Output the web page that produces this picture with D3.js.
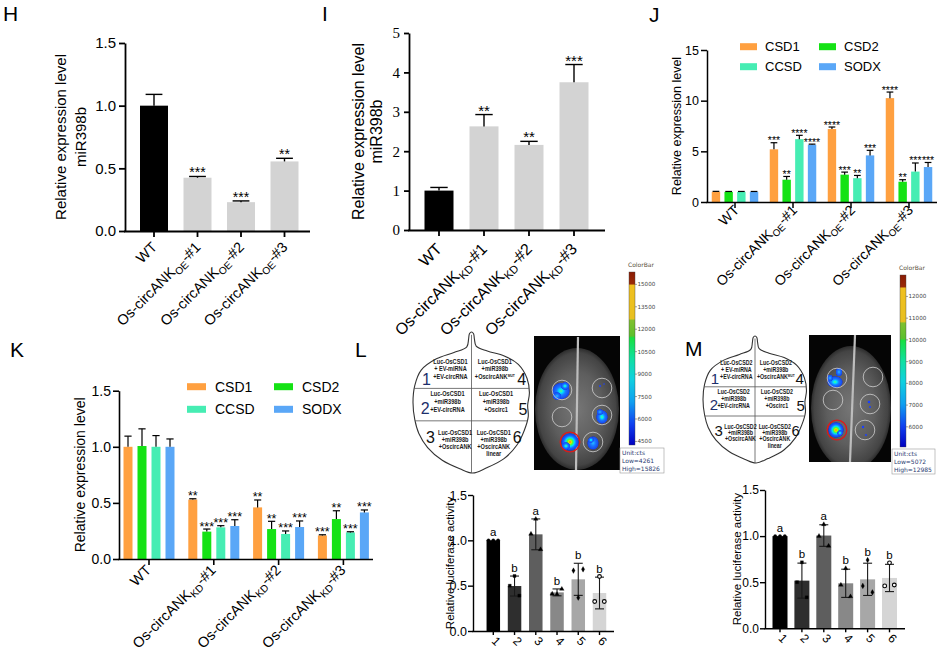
<!DOCTYPE html>
<html>
<head>
<meta charset="utf-8">
<script src="https://cdn.jsdelivr.net/npm/d3@7"></script>
<style>
  body { margin: 0; background: #fff; }
  svg { display: block; }
</style>
</head>
<body>
<svg id="fig" width="937" height="651"></svg>
<script>
// ---------------- data ----------------
// H: miR398b in overexpression lines
const hCats = ['WT', 'OE1', 'OE2', 'OE3'];
const hTickLabels = [['WT'], ['Os-circANK', 'OE', '-#1'], ['Os-circANK', 'OE', '-#2'], ['Os-circANK', 'OE', '-#3']];
const hValues = [1.0, 0.425, 0.23, 0.555];
const hErrors = [0.09, 0.01, 0.01, 0.025];
const hStars = ['', '***', '***', '**'];
const hYTicks = [0, 0.5, 1.0, 1.5];

// I: miR398b in knock-down lines
const iCats = ['WT', 'KD1', 'KD2', 'KD3'];
const iTickLabels = [['WT'], ['Os-circANK', 'KD', '-#1'], ['Os-circANK', 'KD', '-#2'], ['Os-circANK', 'KD', '-#3']];
const iValues = [1.0, 2.63, 2.16, 3.75];
const iErrors = [0.08, 0.30, 0.09, 0.45];
const iStars = ['', '**', '**', '***'];
const iYTicks = [0, 1, 2, 3, 4, 5];

// J / K: target genes
const geneSeries = ['CSD1', 'CSD2', 'CCSD', 'SODX'];

const jGroups = ['WT', 'OE1', 'OE2', 'OE3'];
const jTickLabels = hTickLabels;
const jCSD1 = [1.0, 5.2, 7.2, 10.25];
const jCSD1Err = [0.05, 0.65, 0.2, 0.6];
const jCSD1Stars = ['', '***', '****', '****'];
const jCSD2 = [1.0, 2.2, 2.7, 2.0];
const jCSD2Err = [0.04, 0.32, 0.25, 0.2];
const jCSD2Stars = ['', '**', '***', '**'];
const jCCSD = [1.0, 6.2, 2.35, 3.0];
const jCCSDErr = [0.04, 0.38, 0.27, 0.85];
const jCCSDStars = ['', '****', '**', '***'];
const jSODX = [1.0, 5.65, 4.6, 3.45];
const jSODXErr = [0.04, 0.06, 0.5, 0.45];
const jSODXStars = ['', '****', '***', '***'];
const jYTicks = [0, 5, 10, 15];

const kGroups = ['WT', 'KD1', 'KD2', 'KD3'];
const kTickLabels = iTickLabels;
const kCSD1 = [1.0, 0.53, 0.46, 0.21];
const kCSD1Err = [0.095, 0.007, 0.066, 0.006];
const kCSD1Stars = ['', '**', '**', '***'];
const kCSD2 = [1.007, 0.244, 0.267, 0.356];
const kCSD2Err = [0.153, 0.023, 0.069, 0.074];
const kCSD2Stars = ['', '***', '**', '**'];
const kCCSD = [1.0, 0.282, 0.223, 0.237];
const kCCSDErr = [0.1, 0.015, 0.027, 0.006];
const kCCSDStars = ['', '***', '***', '***'];
const kSODX = [1.0, 0.294, 0.285, 0.415];
const kSODXErr = [0.07, 0.056, 0.054, 0.022];
const kSODXStars = ['', '***', '***', '***'];
const kYTicks = [0, 0.5, 1.0, 1.5];

// L / M: luciferase assays
const lucCats = ['1', '2', '3', '4', '5', '6'];
const lucYTicks = [0, 0.5, 1.0, 1.5];

const lMeans = [1.0, 0.496, 1.066, 0.426, 0.57, 0.419];
const lSD = [0, 0.11, 0.17, 0.038, 0.177, 0.175];
const lPoints = [[1.0, 1.0, 1.0], [0.5, 0.607, 0.39], [1.07, 1.235, 0.9], [0.41, 0.405, 0.463], [0.666, 0.368, 0.68], [0.325, 0.601, 0.325]];
const lLetters = ['a', 'b', 'a', 'b', 'b', 'b'];
const lColorTicks = [4500, 6000, 7500, 9000, 10500, 12000, 13500, 15000];
const lLow = 4261, lHigh = 15826;

const mMeans = [1.0, 0.517, 1.006, 0.488, 0.531, 0.546];
const mSD = [0, 0.19, 0.117, 0.153, 0.175, 0.148];
const mPoints = [[1.0, 1.0, 1.0], [0.5, 0.716, 0.336], [1.0, 1.127, 0.893], [0.47, 0.65, 0.345], [0.46, 0.74, 0.39], [0.46, 0.71, 0.47]];
const mLetters = ['a', 'b', 'a', 'b', 'b', 'b'];
const mColorTicks = [6000, 7000, 8000, 9000, 10000, 11000, 12000];
const mLow = 5072, mHigh = 12985;

// ---------------- style ----------------
const FONT = 'Arial, "Liberation Sans", Helvetica, sans-serif';
const SERIF = '"Liberation Serif", "Times New Roman", serif';
const SERIES_COLORS = { CSD1: '#FFA040', CSD2: '#14E214', CCSD: '#46EDB3', SODX: '#5AA7F7' };
const LUC_GRAYS = ['#000000', '#2e2e2e', '#5e5e5e', '#888888', '#a7a7a7', '#d5d5d5'];

const svg = d3.select('#fig');
const defs = svg.append('defs');

// band scale whose bands are centred at c0, c0+step, ...
function band(domain, c0, step, bw) {
  const p = 1 - bw / step;
  return d3.scaleBand().domain(domain)
    .range([c0 - step / 2, c0 + (domain.length - 0.5) * step])
    .paddingInner(p).paddingOuter(p / 2);
}

function panelLetter(txt, x, y) {
  svg.append('text').attr('x', x).attr('y', y).attr('font-family', FONT)
    .attr('font-size', 21).text(txt);
}

function drawYAxis(y, x0, ticks, fmt, st) {
  const g = svg.append('g').attr('transform', `translate(${x0},0)`)
    .call(d3.axisLeft(y).tickValues(ticks).tickFormat(fmt)
      .tickSize(st.tick).tickPadding(st.pad).tickSizeOuter(0));
  g.selectAll('path, line').attr('stroke', '#000').attr('stroke-width', st.sw);
  g.selectAll('text').attr('font-family', st.family || FONT)
    .attr('font-size', st.fs).attr('fill', '#000');
}

function drawXAxis(x, y0, xStart, xEnd, st) {
  svg.append('line').attr('x1', xStart - st.sw / 2).attr('x2', xEnd)
    .attr('y1', y0 + 0.5).attr('y2', y0 + 0.5)
    .attr('stroke', '#000').attr('stroke-width', st.sw);
  const g = svg.append('g').attr('transform', `translate(0,${y0})`)
    .call(d3.axisBottom(x).tickSize(st.tick).tickSizeOuter(0).tickFormat(''));
  g.select('.domain').remove();
  g.selectAll('line').attr('stroke', '#000').attr('stroke-width', st.sw);
}

function rotLabels(xs, y0, labels, o) {
  labels.forEach((parts, i) => {
    const t = svg.append('text')
      .attr('transform', `translate(${xs[i] + o.dx},${y0 + o.dy}) rotate(${o.angle || -45})`)
      .attr('text-anchor', o.anchor || 'end').attr('font-family', FONT)
      .attr('font-size', o.fs).attr('fill', '#000');
    t.append('tspan').text(parts[0]);
    if (parts.length > 1) {
      t.append('tspan').attr('font-size', o.fs * 0.7).attr('dy', o.fs * 0.25).text(parts[1]);
      t.append('tspan').attr('dy', -o.fs * 0.25).text(parts[2]);
    }
  });
}

function yLabel(lines, xs, yc, fs) {
  lines.forEach((s, i) => {
    svg.append('text').attr('transform', `translate(${xs[i]},${yc}) rotate(-90)`)
      .attr('text-anchor', 'middle').attr('font-family', FONT)
      .attr('font-size', fs).attr('fill', '#000').text(s);
  });
}

// upper-only error bars + significance stars
function errUp(g, xs, values, errors, y, half, sw) {
  const d = values.map((v, i) => ({ x: xs[i], y0: y(v), y1: y(v + errors[i]) }));
  g.selectAll(null).data(d).join('line')
    .attr('x1', e => e.x).attr('x2', e => e.x).attr('y1', e => e.y0).attr('y2', e => e.y1)
    .attr('stroke', '#000').attr('stroke-width', sw);
  g.selectAll(null).data(d).join('line')
    .attr('x1', e => e.x - half).attr('x2', e => e.x + half).attr('y1', e => e.y1).attr('y2', e => e.y1)
    .attr('stroke', '#000').attr('stroke-width', sw);
}

function stars(g, xs, values, errors, marks, y, fs, off) {
  g.selectAll(null).data(marks).join('text')
    .attr('x', (m, i) => xs[i]).attr('y', (m, i) => y(values[i] + errors[i]) + off)
    .attr('text-anchor', 'middle').attr('font-family', FONT).attr('font-size', fs)
    .attr('fill', '#000').text(m => m);
}

// ---------------- single-series panels (H, I) ----------------
function barPanel(o) {
  const y = d3.scaleLinear().domain([0, o.max]).range([o.yBase, o.yTop]);
  const x = band(o.cats, o.c0, o.step, o.bw);
  const xs = o.cats.map(c => x(c) + x.bandwidth() / 2);
  const g = svg.append('g');
  g.selectAll('rect').data(o.values).join('rect')
    .attr('x', (d, i) => x(o.cats[i])).attr('y', d => y(d))
    .attr('width', x.bandwidth()).attr('height', d => o.yBase - y(d))
    .attr('fill', (d, i) => i === 0 ? '#000' : '#d3d3d3');
  errUp(g, xs, o.values, o.errors, y, o.bw * 0.3, 1.4);
  stars(g, xs, o.values, o.errors, o.stars, y, o.starFs, 1);
  drawYAxis(y, o.axisX, o.ticks, o.fmt, o.yst);
  drawXAxis(x, o.yBase, o.axisX, o.axisEnd, { tick: 6, sw: o.yst.sw });
  rotLabels(xs, o.yBase, o.labels, o.lab);
  yLabel(o.ylab, o.ylabX, (o.yBase + o.yTop) / 2, o.ylabFs);
}

panelLetter('H', 3, 21);
barPanel({
  cats: hCats, values: hValues, errors: hErrors, stars: hStars, labels: hTickLabels,
  max: 1.5, yBase: 231, yTop: 43, c0: 154, step: 43.5, bw: 28, axisX: 125, axisEnd: 310,
  ticks: hYTicks, fmt: d3.format('.1f'), yst: { tick: 6, pad: 3, sw: 1.8, fs: 15 },
  starFs: 14, lab: { dx: 4, dy: 17, fs: 14.5 },
  ylab: ['Relative expression level', 'miR398b'], ylabX: [66, 86], ylabFs: 15
});

panelLetter('I', 322, 21);
barPanel({
  cats: iCats, values: iValues, errors: iErrors, stars: iStars, labels: iTickLabels,
  max: 5, yBase: 230, yTop: 33, c0: 439, step: 45, bw: 29, axisX: 409, axisEnd: 605,
  ticks: iYTicks, fmt: d3.format('d'), yst: { tick: 5, pad: 4, sw: 1.8, fs: 15, family: SERIF },
  starFs: 15, lab: { dx: 4, dy: 20, fs: 16 },
  ylab: ['Relative expression level', 'miR398b'], ylabX: [364, 382], ylabFs: 16
});

// ---------------- grouped panels (J, K) ----------------
function groupedPanel(o) {
  const y = d3.scaleLinear().domain([0, o.max]).range([o.yBase, o.yTop]);
  const x = band(o.groups, o.c0, o.step, o.step);
  const xi = band(geneSeries, -1.5 * o.istep, o.istep, o.ibw);
  const g = svg.append('g');
  o.series.forEach(s => {
    const xs = o.groups.map(gr => x(gr) + o.step / 2 + xi(s.name) + o.ibw / 2);
    g.append('g').selectAll('rect').data(s.values).join('rect')
      .attr('x', (d, i) => xs[i] - o.ibw / 2).attr('y', d => y(d))
      .attr('width', o.ibw).attr('height', d => o.yBase - y(d))
      .attr('fill', SERIES_COLORS[s.name]);
    errUp(g, xs, s.values, s.errors, y, o.ibw * 0.4, 1.2);
    stars(g, xs, s.values, s.errors, s.stars, y, o.starFs, 1.5);
  });
  drawYAxis(y, o.axisX, o.ticks, o.fmt, o.yst);
  const groupCenters = o.groups.map(gr => x(gr) + o.step / 2);
  drawXAxis(x, o.yBase, o.axisX, o.axisEnd, { tick: 6, sw: o.yst.sw });
  rotLabels(groupCenters, o.yBase, o.labels, o.lab);
  yLabel(['Relative expression level'], [o.ylabX], (o.yBase + o.yTop) / 2, o.ylabFs);

  // legend, two columns
  const lg = svg.append('g');
  geneSeries.forEach((name, i) => {
    const cx = o.leg.cols[i % 2], cy = o.leg.rows[Math.floor(i / 2)];
    lg.append('rect').attr('x', cx).attr('y', cy - o.leg.h / 2)
      .attr('width', o.leg.w).attr('height', o.leg.h).attr('fill', SERIES_COLORS[name]);
    lg.append('text').attr('x', cx + o.leg.w + o.leg.gap).attr('y', cy).attr('dy', '0.36em')
      .attr('font-family', FONT).attr('font-size', o.leg.fs).text(name);
  });
}

panelLetter('J', 649, 22);
groupedPanel({
  groups: jGroups, labels: jTickLabels,
  series: [
    { name: 'CSD1', values: jCSD1, errors: jCSD1Err, stars: jCSD1Stars },
    { name: 'CSD2', values: jCSD2, errors: jCSD2Err, stars: jCSD2Stars },
    { name: 'CCSD', values: jCCSD, errors: jCCSDErr, stars: jCCSDStars },
    { name: 'SODX', values: jSODX, errors: jSODXErr, stars: jSODXStars }
  ],
  max: 15, yBase: 202, yTop: 50, c0: 735, step: 58, istep: 12.7, ibw: 8.4,
  axisX: 707, axisEnd: 937, ticks: jYTicks, fmt: d3.format('d'),
  yst: { tick: 6, pad: 2, sw: 1.5, fs: 12.5 }, starFs: 10.5,
  lab: { dx: 5, dy: 9, fs: 14 }, ylabX: 681, ylabFs: 12.5,
  leg: { cols: [740, 819], rows: [46.7, 66.7], w: 17, h: 7, gap: 8, fs: 13 }
});

panelLetter('K', 10, 357);
groupedPanel({
  groups: kGroups, labels: kTickLabels,
  series: [
    { name: 'CSD1', values: kCSD1, errors: kCSD1Err, stars: kCSD1Stars },
    { name: 'CSD2', values: kCSD2, errors: kCSD2Err, stars: kCSD2Stars },
    { name: 'CCSD', values: kCCSD, errors: kCCSDErr, stars: kCCSDStars },
    { name: 'SODX', values: kSODX, errors: kSODXErr, stars: kSODXStars }
  ],
  max: 1.5, yBase: 559, yTop: 390.7, c0: 149, step: 64.8, istep: 14, ibw: 9,
  axisX: 119, axisEnd: 373, ticks: kYTicks, fmt: d3.format('.1f'),
  yst: { tick: 6, pad: 2, sw: 1.6, fs: 14 }, starFs: 12.5,
  lab: { dx: 3, dy: 12, fs: 14.5 }, ylabX: 85, ylabFs: 14,
  leg: { cols: [187, 274], rows: [386.7, 409.3], w: 19, h: 7, gap: 9, fs: 14 }
});

// ---------------- luciferase panels (L, M) ----------------
const MARKERS = [d3.symbolCircle, d3.symbolSquare, d3.symbolTriangle, d3.symbolTriangle, d3.symbolDiamond, d3.symbolCircle];

function lucPanel(o) {
  const y = d3.scaleLinear().domain([0, 1.5]).range([o.yBase, o.yTop]);
  const x = band(lucCats, o.c0, o.step, o.bw);
  const xs = lucCats.map(c => x(c) + x.bandwidth() / 2);
  const g = svg.append('g');
  g.selectAll('rect').data(o.means).join('rect')
    .attr('x', (d, i) => x(lucCats[i])).attr('y', d => y(d))
    .attr('width', x.bandwidth()).attr('height', d => o.yBase - y(d))
    .attr('fill', (d, i) => LUC_GRAYS[i]);
  // symmetric SD bars
  o.means.forEach((m, i) => {
    if (!o.sd[i]) return;
    const y1 = y(m + o.sd[i]), y2 = y(m - o.sd[i]);
    g.append('line').attr('x1', xs[i]).attr('x2', xs[i]).attr('y1', y1).attr('y2', y2)
      .attr('stroke', '#1a1a1a').attr('stroke-width', 1.1);
    [y1, y2].forEach(yy => g.append('line').attr('x1', xs[i] - 4.5).attr('x2', xs[i] + 4.5)
      .attr('y1', yy).attr('y2', yy).attr('stroke', '#1a1a1a').attr('stroke-width', 1.1));
  });
  // replicate points
  o.points.forEach((pts, i) => {
    g.selectAll(null).data(pts).join('path')
      .attr('transform', (v, j) => `translate(${xs[i] + (j - 1) * 4.8},${y(v)})`)
      .attr('d', d3.symbol().type(MARKERS[i]).size(i === 5 ? 11 : 9))
      .attr('fill', i === 5 ? '#fff' : '#000')
      .attr('stroke', '#000').attr('stroke-width', i === 5 ? 1.1 : 0.3);
  });
  // letters
  g.selectAll(null).data(o.letters).join('text')
    .attr('x', (t, i) => xs[i])
    .attr('y', (t, i) => y(Math.max(o.means[i] + o.sd[i], d3.max(o.points[i]))) - 4)
    .attr('text-anchor', 'middle').attr('font-family', FONT).attr('font-size', 11.5)
    .attr('fill', '#000').text(t => t);
  drawYAxis(y, o.axisX, lucYTicks, d3.format('.1f'), { tick: 5, pad: 1, sw: 1.4, fs: o.tickFs });
  drawXAxis(x, o.yBase, o.axisX, o.axisEnd, { tick: 4, sw: 1.4 });
  rotLabels(xs, o.yBase, lucCats.map(c => [c]), { dx: 0, dy: 13, fs: 12, angle: 45, anchor: 'middle' });
  yLabel(['Relative luciferase activity'], [o.ylabX], (o.yBase + o.yTop) / 2, 11.5);
}

lucPanel({ means: lMeans, sd: lSD, points: lPoints, letters: lLetters,
  yBase: 631, yTop: 495, c0: 493.3, step: 21.24, bw: 13.5, axisX: 473, axisEnd: 614,
  tickFs: 12.5, ylabX: 454 });
lucPanel({ means: mMeans, sd: mSD, points: mPoints, letters: mLetters,
  yBase: 628.3, yTop: 490, c0: 780, step: 21.9, bw: 15, axisX: 765, axisEnd: 905,
  tickFs: 12, ylabX: 741 });

// ---------------- leaf diagrams ----------------
const LEAF_OUTLINE = [[0, 0], [0.035, 0.012], [0.05, 0.05], [0.08, 0.1], [0.27, 0.135], [0.56, 0.17],
  [0.8, 0.23], [0.95, 0.33], [0.99, 0.43], [0.96, 0.52], [0.97, 0.6], [0.9, 0.7], [0.78, 0.8],
  [0.55, 0.9], [0.25, 0.965], [0.02, 1], [-0.2, 0.97], [-0.5, 0.91], [-0.75, 0.82], [-0.9, 0.72],
  [-0.97, 0.62], [-1, 0.5], [-0.97, 0.38], [-0.86, 0.27], [-0.6, 0.19], [-0.3, 0.145],
  [-0.08, 0.105], [-0.05, 0.05], [-0.035, 0.012]];

function drawLeafDiagram(o) {
  const u = d3.scaleLinear([-1, 1], [o.x0, o.x1]);
  const v = d3.scaleLinear([0, 1], [o.y0, o.y1]);
  const outline = d3.line().x(d => u(d[0])).y(d => v(d[1])).curve(d3.curveCatmullRomClosed.alpha(0.5));
  defs.append('clipPath').attr('id', o.id).append('path').attr('d', outline(LEAF_OUTLINE));
  const g = svg.append('g');
  g.append('path').attr('d', outline(LEAF_OUTLINE)).attr('fill', '#fff')
    .attr('stroke', '#333').attr('stroke-width', 1.1);
  const inner = g.append('g').attr('clip-path', `url(#${o.id})`);
  inner.append('line').attr('x1', u(0)).attr('x2', u(0)).attr('y1', v(0.02)).attr('y2', v(1))
    .attr('stroke', '#555').attr('stroke-width', 0.8);
  [0.40, 0.63].forEach(t => inner.append('line').attr('x1', u(-1.1)).attr('x2', u(1.1))
    .attr('y1', v(t)).attr('y2', v(t)).attr('stroke', '#555').attr('stroke-width', 0.8));

  const gene = o.gene;
  const rows = [[0.225, 0.28, 0.335], [0.455, 0.51, 0.565], [0.73, 0.78, 0.83, 0.88]];
  const blocks = [
    { u: -0.36, row: 0, lines: [`Luc-${gene}`, '+ EV-miRNA', '+EV-circRNA'] },
    { u: 0.40, row: 0, lines: [`Luc-${gene}`, '+miR398b', ['+OscircANK', 'MUT']] },
    { u: -0.41, row: 1, lines: [`Luc-${gene}`, '+miR398b', '+EV-circRNA'] },
    { u: 0.42, row: 1, lines: [`Luc-${gene}`, '+miR398b', '+Oscirc1'] },
    { u: -0.28, row: 2, lines: [`Luc-${gene}`, '+miR398b', '+OscircANK'] },
    { u: 0.38, row: 2, lines: [`Luc-${gene}`, '+miR398b', '+OscircANK', 'linear'] }
  ];
  blocks.forEach(b => b.lines.forEach((ln, k) => {
    const t = g.append('text')
      .attr('transform', `translate(${u(b.u)},${v(rows[b.row][k])}) scale(0.8,1)`)
      .attr('text-anchor', 'middle').attr('font-family', FONT).attr('font-weight', 'bold')
      .attr('font-size', o.fs).attr('fill', '#1a1a1a');
    if (Array.isArray(ln)) {
      t.append('tspan').text(ln[0]);
      t.append('tspan').attr('font-size', o.fs * 0.6).attr('dy', -2).text(ln[1]);
    } else t.text(ln);
  }));
  const nums = [['1', -0.77, 0.375], ['2', -0.79, 0.58], ['3', -0.7, 0.785],
                ['4', 0.86, 0.375], ['5', 0.88, 0.59], ['6', 0.78, 0.785]];
  nums.forEach(n => g.append('text').attr('x', u(n[1])).attr('y', v(n[2]))
    .attr('text-anchor', 'middle').attr('font-family', FONT).attr('font-size', o.nfs)
    .attr('fill', n[0] === '1' || n[0] === '2' ? '#1d2f6b' : '#111').text(n[0]));
}

drawLeafDiagram({ id: 'leafL', gene: 'OsCSD1', x0: 413, x1: 530, y0: 332, y1: 473, fs: 7, nfs: 16 });
drawLeafDiagram({ id: 'leafM', gene: 'OsCSD2', x0: 703, x1: 807, y0: 336, y1: 463, fs: 6.6, nfs: 15 });
panelLetter('L', 355, 357);
panelLetter('M', 685, 356);

// ---------------- luminescence photos ----------------
function radial(id, stops) {
  const gr = defs.append('radialGradient').attr('id', id);
  stops.forEach(s => gr.append('stop').attr('offset', s[0]).attr('stop-color', s[1])
    .attr('stop-opacity', s[2] === undefined ? 1 : s[2]));
}
radial('leafGray', [[0, '#767676'], [0.6, '#5e5e5e'], [0.92, '#444'], [1, '#2c2c2c']]);
radial('lumHot', [[0, '#ff3000'], [0.12, '#ffe000'], [0.3, '#50ff30'], [0.48, '#00dcff'],
  [0.7, '#1a64ff'], [0.92, '#1040f0', 0.95], [1, '#0000c0', 0]]);
radial('lumMid', [[0, '#60ff70'], [0.22, '#00e4ff'], [0.5, '#1a78ff'], [0.9, '#1448f5', 0.95], [1, '#0000c0', 0]]);
radial('lumLow', [[0, '#28c0ff'], [0.4, '#1a78ff'], [0.88, '#1448f5', 0.95], [1, '#0000c0', 0]]);

function drawPhoto(o) {
  defs.append('clipPath').attr('id', o.id).append('rect')
    .attr('x', o.x).attr('y', o.y).attr('width', o.w).attr('height', o.h);
  const g = svg.append('g').attr('clip-path', `url(#${o.id})`);
  g.append('rect').attr('x', o.x).attr('y', o.y).attr('width', o.w).attr('height', o.h).attr('fill', '#050505');
  g.append('ellipse').attr('cx', o.leaf[0]).attr('cy', o.leaf[1]).attr('rx', o.leaf[2]).attr('ry', o.leaf[3])
    .attr('fill', 'url(#leafGray)');
  g.append('path').attr('d', `M${o.rib[0]},${o.rib[1]} L${o.rib[2]},${o.rib[3]}`)
    .attr('stroke', '#bdbdbd').attr('stroke-width', 2.2);
  o.blobs.forEach(b => g.append('ellipse').attr('cx', b[0]).attr('cy', b[1]).attr('rx', b[2]).attr('ry', b[3])
    .attr('fill', `url(#${b[4]})`));
  o.dots.forEach(d => g.append('circle').attr('cx', d[0]).attr('cy', d[1]).attr('r', d[2]).attr('fill', '#1a40ff'));
  o.circles.forEach(c => g.append('circle').attr('cx', c[0]).attr('cy', c[1]).attr('r', 9.8)
    .attr('fill', 'none').attr('stroke', c[2] ? '#e01818' : '#cfcfcf').attr('stroke-width', c[2] ? 1.3 : 0.8));
}

drawPhoto({
  id: 'photoL', x: 534, y: 336, w: 86, h: 134, leaf: [577, 409, 42, 61], rib: [578, 337, 576, 470],
  circles: [[562, 390], [602, 388], [562, 417], [602, 415], [570, 442, true], [593, 442]],
  blobs: [[561, 391, 9, 8.5, 'lumMid'], [565, 386, 4.5, 4, 'lumMid'], [557, 396, 4.5, 4, 'lumLow'],
          [602, 417, 6, 7, 'lumMid'], [600, 412, 3.5, 3, 'lumLow'],
          [570, 442, 9, 9, 'lumHot'], [566, 446, 4.5, 4, 'lumMid'],
          [593, 443, 6, 7, 'lumLow'], [591, 440, 3, 3, 'lumMid']],
  dots: [[600, 386, 1], [604, 384, 0.8]]
});
drawPhoto({
  id: 'photoM', x: 809, y: 335, w: 82, h: 127, leaf: [851, 408, 40, 62], rib: [855, 335, 850, 462],
  circles: [[837, 378], [873, 377], [833, 400], [870, 404], [837, 430, true], [865, 430]],
  blobs: [[835, 382, 8, 6, 'lumMid'], [839, 372, 3.5, 4.5, 'lumLow'], [830, 378, 3, 3.5, 'lumLow'],
          [836, 430, 8, 8, 'lumHot'], [840, 433, 3, 3, 'lumMid']],
  dots: [[869, 402, 1.3], [870, 407, 1], [863, 427, 1.2], [866, 435, 1]]
});

// ---------------- colour bars ----------------
const cbar = defs.append('linearGradient').attr('id', 'cbar')
  .attr('x1', 0).attr('y1', 0).attr('x2', 0).attr('y2', 1);
[[0, '#8a1c05'], [0.07, '#9a2a08'], [0.075, '#f0c020'], [0.27, '#e8c020'], [0.28, '#80c030'],
 [0.37, '#5cc02c'], [0.38, '#18e040'], [0.5, '#10e0a0'], [0.62, '#10d0e0'], [0.75, '#10a0f0'],
 [0.88, '#1040f0'], [1, '#0000c0']]
  .forEach(s => cbar.append('stop').attr('offset', s[0]).attr('stop-color', s[1]));

function colorBar(o) {
  const y = d3.scaleLinear().domain([o.low, o.high]).range([o.yBot, o.yTop]);
  const g = svg.append('g').attr('font-family', '"DejaVu Sans", Verdana, sans-serif');
  g.append('text').attr('x', o.x - 1).attr('y', o.yTop - 5).attr('font-size', 6)
    .attr('fill', '#5a5040').text('ColorBar');
  g.append('rect').attr('x', o.x).attr('y', o.yTop).attr('width', 6).attr('height', o.yBot - o.yTop)
    .attr('fill', 'url(#cbar)').attr('stroke', '#444').attr('stroke-width', 0.4);
  g.selectAll(null).data(o.ticks).join('line')
    .attr('x1', o.x + 6).attr('x2', o.x + 8).attr('y1', d => y(d)).attr('y2', d => y(d))
    .attr('stroke', '#444').attr('stroke-width', 0.5);
  g.selectAll(null).data(o.ticks).join('text')
    .attr('x', o.x + 8.5).attr('y', d => y(d)).attr('dy', '0.35em')
    .attr('font-size', 5.6).attr('fill', '#444').text(d => d);
  // units box
  g.append('rect').attr('x', o.box[0]).attr('y', o.box[1]).attr('width', o.box[2]).attr('height', o.box[3])
    .attr('fill', '#fff').attr('stroke', '#999').attr('stroke-width', 0.6);
  ['Unit:cts', `Low=${o.low}`, `High=${o.high}`].forEach((s, i) =>
    g.append('text').attr('x', o.box[0] + 2).attr('y', o.box[1] + 7 + i * 7.8)
      .attr('font-size', 6).attr('fill', '#2a3a70').text(s));
}

colorBar({ x: 629, yTop: 272, yBot: 445, low: lLow, high: lHigh, ticks: lColorTicks, box: [620, 448, 44, 25] });
colorBar({ x: 900, yTop: 275, yBot: 447, low: mLow, high: mHigh, ticks: mColorTicks, box: [892, 449, 43, 25] });
</script>
</body>
</html>
